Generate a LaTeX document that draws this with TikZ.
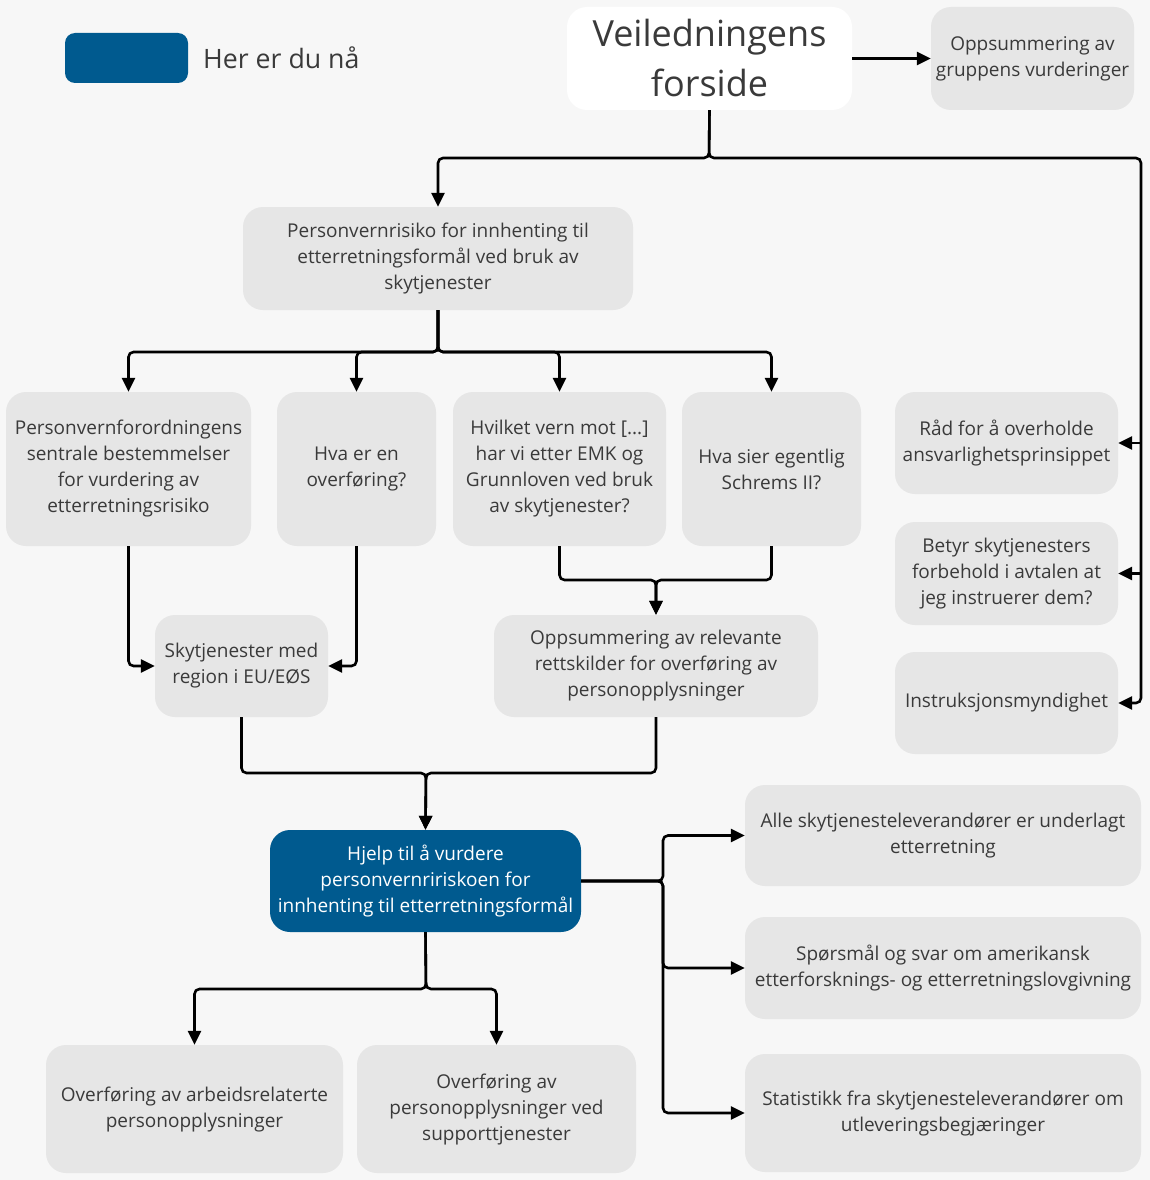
\documentclass[tikz,border=0pt]{standalone}
\usepackage{fontspec}
\setmainfont{Open Sans}
\usetikzlibrary{arrows.meta}

\definecolor{bggray}{HTML}{F7F7F7}
\definecolor{boxgray}{HTML}{E6E6E6}
\definecolor{hereblue}{HTML}{005A8F}
\definecolor{txtgray}{HTML}{3A3A3A}

\newcommand{\boxrad}{20pt}
\newcommand{\linew}{2.6pt}
\newcommand{\smallfont}{\fontsize{19}{26}\selectfont}

\tikzset{
  box/.style={fill=boxgray, rounded corners=\boxrad, text=txtgray, align=center,
    inner sep=0pt, font=\smallfont},
  herebox/.style={box, fill=hereblue, text=white},
  conn/.style={line width=\linew, rounded corners=5pt,
    -{Triangle[length=14pt, width=13pt]}},
}

\begin{document}
\begin{tikzpicture}[x=1pt, y=-1pt]
  \fill [bggray] (0,0) rectangle (1150,1180);
  \useasboundingbox (0,0) rectangle (1150,1180);

  \node [herebox, minimum width=123pt, minimum height=50pt, rounded corners=10pt] (legend) at (126.5,58) {};
  \node [anchor=west, text=txtgray, font=\fontsize{26.7}{30}\selectfont, inner sep=0pt] (legendtxt) at (203,58) {Her er du nå};

  \node [box, fill=white, minimum width=285pt, minimum height=103pt, font=\fontsize{36}{50}\selectfont, text=txtgray] (veil) at (709.5,58.5) {Veiledningens\\forside};
  \node [box, minimum width=203pt, minimum height=103pt] (gruppe) at (1032.5,58.5) {Oppsummering av\\gruppens vurderinger};

  \node [box, minimum width=390pt, minimum height=103pt] (pvr) at (438,258.5) {Personvernrisiko for innhenting til\\etterretningsformål ved bruk av\\skytjenester};

  \node [box, minimum width=245pt, minimum height=154pt] (pvf) at (128.5,469) {Personvernforordningens\\sentrale bestemmelser\\for vurdering av\\etterretningsrisiko};
  \node [box, minimum width=159pt, minimum height=154pt] (hva) at (356.5,469) {Hva er en\\overføring?};
  \node [box, minimum width=213pt, minimum height=154pt] (vern) at (559.5,469) {Hvilket vern mot [...]\\har vi etter EMK og\\Grunnloven ved bruk\\av skytjenester?};
  \node [box, minimum width=179pt, minimum height=154pt] (schrems) at (771.5,469) {Hva sier egentlig\\Schrems II?};

  \node [box, minimum width=223pt, minimum height=102pt] (raad) at (1006.5,443) {Råd for å overholde\\ansvarlighetsprinsippet};
  \node [box, minimum width=223pt, minimum height=103pt] (betyr) at (1006.5,573.5) {Betyr skytjenesters\\forbehold i avtalen at\\jeg instruerer dem?};
  \node [box, minimum width=223pt, minimum height=102pt] (instr) at (1006.5,703) {Instruksjonsmyndighet};

  \node [box, minimum width=173pt, minimum height=102pt] (skyt) at (241.5,666) {Skytjenester med\\region i EU/EØS};
  \node [box, minimum width=324pt, minimum height=102pt] (opps) at (656,666) {Oppsummering av relevante\\rettskilder for overføring av\\personopplysninger};

  \node [herebox, minimum width=311pt, minimum height=102pt] (hjelp) at (425.5,881) {Hjelp til å vurdere\\personvernririskoen for\\innhenting til etterretningsformål};

  \node [box, minimum width=396pt, minimum height=101pt] (alle) at (943,835.5) {Alle skytjenesteleverandører er underlagt\\etterretning};
  \node [box, minimum width=396pt, minimum height=102pt] (sporsmaal) at (943,968) {Spørsmål og svar om amerikansk\\etterforsknings- og etterretningslovgivning};
  \node [box, minimum width=396pt, minimum height=118pt] (stat) at (943,1113) {Statistikk fra skytjenesteleverandører om\\utleveringsbegjæringer};

  \node [box, minimum width=297pt, minimum height=128pt] (arb) at (194.5,1109) {Overføring av arbeidsrelaterte\\personopplysninger};
  \node [box, minimum width=279pt, minimum height=128pt] (supp) at (496.5,1109) {Overføring av\\personopplysninger ved\\supporttjenester};

  \coordinate (vj) at (709,158);
  \coordinate (rail) at (1141,158);
  \coordinate (pj) at (438,352);
  \coordinate (mj) at (656,580);
  \coordinate (sj) at (426,773);
  \coordinate (hj) at (663,881);
  \coordinate (bj) at (426,989);

  \draw [conn] (veil.east) -- (gruppe.west);
  \draw [conn] (veil.south) -- (vj) -| (pvr.north);
  \draw [conn] (veil.south) -- (vj) -- (rail) |- (instr.east);
  \draw [conn] (rail |- raad.east) -- (raad.east);
  \draw [conn] (rail |- betyr.east) -- (betyr.east);

  \draw [conn] (pvr.south) -- (pj) -| (pvf.north);
  \draw [conn] (pvr.south) -- (pj) -| (hva.north);
  \draw [conn] (pvr.south) -- (pj) -| (vern.north);
  \draw [conn] (pvr.south) -- (pj) -| (schrems.north);

  \draw [conn] (pvf.south) |- (skyt.west);
  \draw [conn] (hva.south) |- (skyt.east);
  \draw [conn] (vern.south) |- (mj) -- (opps.north);
  \draw [conn] (schrems.south) |- (mj) -- (opps.north);

  \draw [conn] (skyt.south) |- (sj) -- (hjelp.north);
  \draw [conn] (opps.south) |- (sj) -- (hjelp.north);

  \draw [conn] (hjelp.east) -- (hj) |- (alle.west);
  \draw [conn] (hjelp.east) -- (hj) |- (sporsmaal.west);
  \draw [conn] (hjelp.east) -- (hj) |- (stat.west);

  \draw [conn] (hjelp.south) -- (bj) -| (arb.north);
  \draw [conn] (hjelp.south) -- (bj) -| (supp.north);
\end{tikzpicture}
\end{document}
